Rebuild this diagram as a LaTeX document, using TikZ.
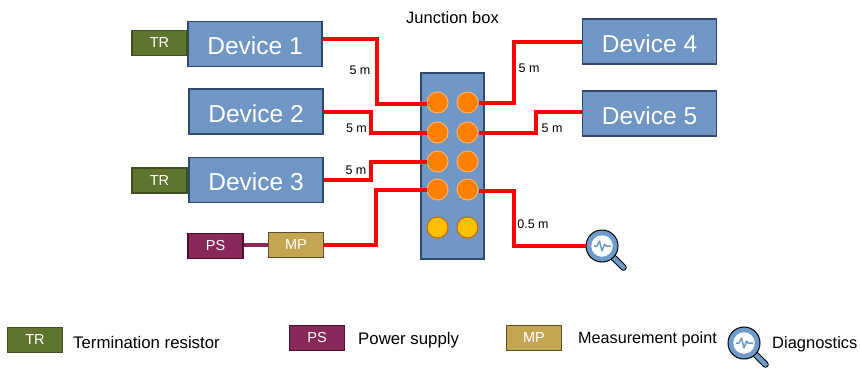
\documentclass[tikz,border=0pt]{standalone}
\usepackage{fontspec}
\setmainfont{Liberation Sans}
\newcommand{\fs}[1]{\fontsize{#1bp}{#1bp}\selectfont}
\newcommand{\magglass}[3]{% name, x, y
  \draw[line width=6.5bp,black,line cap=round] ($(#1)+(8,8)$) -- ++(13.5,13.5);
  \draw[line width=4.5bp,lensblue,line cap=round] ($(#1)+(8,8)$) -- ++(13.5,13.5);
  \node[circle,draw=black,line width=1bp,fill=lensblue,minimum size=32bp,inner sep=0pt] (#2) at (#1) {};
  \node[circle,draw=none,fill=white,minimum size=21.5bp,inner sep=0pt] (#3) at (#1) {};
  \draw[lensblue,line width=1.5bp,line join=round] ($(#1)+(-8,0)$) -- ++(3,0) -- ++(2.5,-5) -- ++(2.5,10) -- ++(2.5,-7) -- ++(1.5,2) -- ++(5,0);
}
\usetikzlibrary{calc}
\definecolor{devfill}{HTML}{6F96C4}
\definecolor{devline}{HTML}{2F4A6B}
\definecolor{trfill}{HTML}{5E7530}
\definecolor{trline}{HTML}{3F4F20}
\definecolor{psfill}{HTML}{88295A}
\definecolor{psline}{HTML}{4A1230}
\definecolor{mpfill}{HTML}{C4A552}
\definecolor{mpline}{HTML}{5F4F20}
\definecolor{lensblue}{HTML}{6F9BCB}
\definecolor{pinorange}{HTML}{FF8000}
\definecolor{pinyellow}{HTML}{FFC000}
\tikzset{
  x=1bp,y=-1bp,
  devbox/.style={draw=devline,line width=1.5bp,fill=devfill,text=white,minimum width=134bp,minimum height=45bp,inner sep=0pt,font=\fs{24.5},text height=21.5bp,text depth=0pt},
  smallbox/.style={line width=1.5bp,text=white,minimum width=55bp,minimum height=25bp,inner sep=0pt,font=\fs{14.5}},
  trbox/.style={smallbox,draw=trline,fill=trfill},
  psbox/.style={smallbox,draw=psline,fill=psfill},
  mpbox/.style={smallbox,draw=mpline,fill=mpfill},
  jbox/.style={draw=devline,line width=1.5bp,fill=devfill,minimum width=63bp,minimum height=186bp,inner sep=0pt},
  pin/.style={circle,draw=#1,line width=1bp,minimum size=21bp,inner sep=0pt},
  wire/.style={draw=red,line width=4bp},
  lenlabel/.style={font=\fs{12.5},text=black,inner sep=0pt},
  legendlabel/.style={font=\fs{16.8},text=black,inner sep=0pt,anchor=west},
}
\begin{document}
\begin{tikzpicture}
\useasboundingbox (0,0) rectangle (860,367);
\node[devbox] (d1) at (255,44) {Device 1};
\node[devbox] (d2) at (256,111.5) {Device 2};
\node[devbox] (d3) at (256,180) {Device 3};
\node[devbox] (d4) at (649.5,41.5) {Device 4};
\node[devbox] (d5) at (649.5,113.5) {Device 5};
\node[trbox] (tr1) at (159.5,43) {TR};
\node[trbox] (tr2) at (159.5,180.5) {TR};
\node[psbox] (ps) at (215.5,246) {PS};
\node[mpbox] (mp) at (296,245) {MP};
\node[jbox] (jb) at (452.5,166) {};
\node[font=\fs{16.5},inner sep=0pt] (jt) at (452.5,18) {Junction box};
\node[pin=pinorange!60!white,fill=pinorange] (a1) at (437.5,102.5) {};
\node[pin=pinorange!60!white,fill=pinorange] (b1) at (467.5,102.5) {};
\node[pin=pinorange!60!white,fill=pinorange] (a2) at (437.5,132.5) {};
\node[pin=pinorange!60!white,fill=pinorange] (b2) at (467.5,132.5) {};
\node[pin=pinorange!60!white,fill=pinorange] (a3) at (437.5,161.5) {};
\node[pin=pinorange!60!white,fill=pinorange] (b3) at (467.5,161.5) {};
\node[pin=pinorange!60!white,fill=pinorange] (a4) at (437.5,189.5) {};
\node[pin=pinorange!60!white,fill=pinorange] (b4) at (467.5,189.5) {};
\node[pin=orange!80!black,fill=pinyellow] (a5) at (437.5,227.5) {};
\node[pin=orange!80!black,fill=pinyellow] (b5) at (467.5,227.5) {};
\coordinate (lens1) at (602,246);
\coordinate (lens2) at (744,343);
\magglass{lens1}{mag1}{magin1}
\magglass{lens2}{mag2}{magin2}
\draw[wire] ([yshift=5bp]d1.east) -- ++(54,0) |- ([yshift=-1.5bp]a1.west);
\draw[wire] (d2.east) -- ++(47,0) |- (a2.west);
\draw[wire] (d3.east) -- ++(47,0) |- (a3.west);
\draw[wire] (mp.east) -- ++(52,0) |- (a4.west);
\draw[wire] (d4.west) -- ++(-68,0) |- (b1.east);
\draw[wire] ([yshift=1.5bp]d5.west) -- ++(-46,0) |- (b2.east);
\draw[wire] ([yshift=-1.5bp]b4.east) -- ++(35,0) |- (mag1.west);
\draw[draw=psfill,line width=4bp] (ps.east |- mp.west) -- (mp.west);
\node[lenlabel] (l1) at (360,70) {5 m};
\node[lenlabel] (l2) at (356.5,128) {5 m};
\node[lenlabel] (l3) at (356,170) {5 m};
\node[lenlabel] (l4) at (529,68) {5 m};
\node[lenlabel] (l5) at (552,128) {5 m};
\node[lenlabel] (l6) at (533,224) {0.5 m};
\node[trbox] (ltr) at (35,340) {TR};
\node[legendlabel] (ltrt) at (73,342.5) {Termination resistor};
\node[psbox] (lps) at (317,338) {PS};
\node[legendlabel] (lpst) at (358,340.5) {Power supply};
\node[mpbox] (lmp) at (534,338) {MP};
\node[legendlabel,font=\fs{16.2}] (lmpt) at (578,339) {Measurement point};
\node[legendlabel,font=\fs{16.5}] (ldt) at (772,344.5) {Diagnostics};
\end{tikzpicture}
\end{document}
